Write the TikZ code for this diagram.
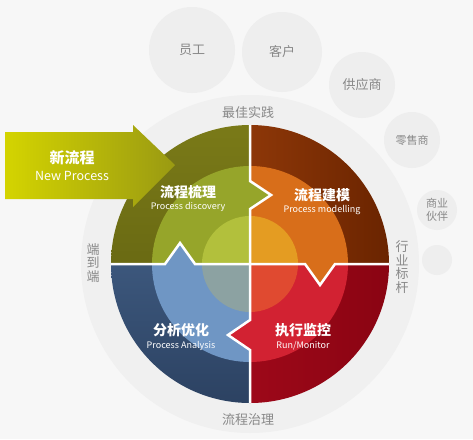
\documentclass[tikz,border=0pt]{standalone}
\usepackage{fontspec}
\setmainfont{Noto Sans CJK SC}
\definecolor{bgc}{HTML}{F7F7F7}
\definecolor{ringc}{HTML}{F0F0F0}
\definecolor{bubc}{HTML}{EEEEEE}
\definecolor{gtext}{HTML}{888888}
\definecolor{tlA}{HTML}{7A7A18}
\definecolor{tlB}{HTML}{5A5A0E}
\definecolor{tlM}{HTML}{96A52A}
\definecolor{tlI}{HTML}{B2C03C}
\definecolor{trA}{HTML}{B04A10}
\definecolor{trB}{HTML}{6A2400}
\definecolor{trM}{HTML}{D86E1A}
\definecolor{trI}{HTML}{E49C22}
\definecolor{brA}{HTML}{B00C20}
\definecolor{brB}{HTML}{8A0412}
\definecolor{brM}{HTML}{D22232}
\definecolor{brI}{HTML}{E04A30}
\definecolor{blA}{HTML}{4C6C96}
\definecolor{blB}{HTML}{2C4262}
\definecolor{blM}{HTML}{6F96C4}
\definecolor{blI}{HTML}{8CA2A2}
\definecolor{arA}{HTML}{D4D400}
\definecolor{arB}{HTML}{9A9A12}
\tikzset{
  bubble/.style={circle, fill=bubc, text=gtext, inner sep=0pt, align=center, font=\fontsize{13}{14}\selectfont},
  glabel/.style={text=gtext, inner sep=0pt, align=center, font=\fontsize{13}{14}\selectfont},
  ttl/.style={text=white, inner sep=0pt, font=\fontsize{14}{16}\selectfont\bfseries},
  sub/.style={text=white, inner sep=0pt, font=\fontsize{9}{10}\selectfont},
  sep/.style={white, line width=2.5pt, line join=miter},
}
\begin{document}
\begin{tikzpicture}[x=1pt,y=-1pt]
\useasboundingbox (0,0) rectangle (473,439);
\fill[bgc] (0,0) rectangle (473,439);
\fill[ringc] (250,264) circle (169pt);
% bubbles
\node[bubble, minimum size=86pt] (b1) at (192,50) {员工};
\node[bubble, minimum size=80pt] (b2) at (282,52) {客户};
\node[bubble, minimum size=66pt] (b3) at (362,85) {供应商};
\node[bubble, minimum size=56pt, font=\fontsize{11}{12}\selectfont] (b4) at (412,140) {零售商};
\node[bubble, minimum size=40pt, font=\fontsize{11}{13}\selectfont] (b5) at (437,210) {商业\\伙伴};
\node[bubble, minimum size=30pt] (b6) at (437,260) {};
% quadrants
\begin{scope}
\clip (250,264) -- (195,264) -- (180,243) -- (165,264) -- (80,264) -- (80,80) -- (250,80) -- (250,181) -- (271,195) -- (250,209) -- cycle;
\shade[top color=tlA, bottom color=tlB] (250,264) circle (139pt);
\fill[tlM] (250,264) circle (98pt);
\fill[tlI] (250,264) circle (48pt);
\end{scope}
\begin{scope}
\clip (250,264) -- (250,209) -- (271,195) -- (250,181) -- (250,80) -- (420,80) -- (420,264) -- (335,264) -- (320,285) -- (305,264) -- cycle;
\shade[left color=trA, right color=trB] (250,264) circle (139pt);
\fill[trM] (250,264) circle (98pt);
\fill[trI] (250,264) circle (48pt);
\end{scope}
\begin{scope}
\clip (250,264) -- (305,264) -- (320,285) -- (335,264) -- (420,264) -- (420,420) -- (250,420) -- (250,350) -- (228,335) -- (250,320) -- cycle;
\shade[left color=brA, right color=brB] (250,264) circle (139pt);
\fill[brM] (250,264) circle (98pt);
\fill[brI] (250,264) circle (48pt);
\end{scope}
\begin{scope}
\clip (250,264) -- (250,320) -- (228,335) -- (250,350) -- (250,420) -- (80,420) -- (80,264) -- (165,264) -- (180,243) -- (195,264) -- cycle;
\shade[top color=blA, bottom color=blB] (250,264) circle (139pt);
\fill[blM] (250,264) circle (98pt);
\fill[blI] (250,264) circle (48pt);
\end{scope}
% separators
\begin{scope}
\clip (250,264) circle (139pt);
\draw[sep] (100,264) -- (165,264) -- (180,243) -- (195,264) -- (305,264) -- (320,285) -- (335,264) -- (400,264);
\draw[sep] (250,115) -- (250,181) -- (271,195) -- (250,209) -- (250,320) -- (228,335) -- (250,350) -- (250,415);
\end{scope}
% arrow
\shade[left color=arA, right color=arB] (5,132) -- (133,132) -- (133,125) -- (175,165) -- (133,207) -- (133,199) -- (5,199) -- cycle;
\node[ttl, font=\fontsize{15}{17}\selectfont\bfseries] (n1) at (72,158) {新流程};
\node[sub, font=\fontsize{12.5}{14}\selectfont] (n2) at (72,176) {New Process};
% quadrant texts
\node[ttl] (q1) at (188,192) {流程梳理};
\node[sub] (q1s) at (188,207) {Process discovery};
\node[ttl] (q2) at (322,195) {流程建模};
\node[sub] (q2s) at (322,210) {Process modelling};
\node[ttl] (q3) at (303,330) {执行监控};
\node[sub] (q3s) at (303,346) {Run/Monitor};
\node[ttl] (q4) at (181,330) {分析优化};
\node[sub] (q4s) at (181,346) {Process Analysis};
% gray labels
\node[glabel] (l1) at (248,113) {最佳实践};
\node[glabel] (l2) at (248,420) {流程治理};
\node[glabel, font=\fontsize{13}{13.5}\selectfont] (l3) at (93,263) {端\\到\\端};
\node[glabel, font=\fontsize{13}{13.5}\selectfont] (l4) at (402,267) {行\\业\\标\\杆};
\end{tikzpicture}
\end{document}
